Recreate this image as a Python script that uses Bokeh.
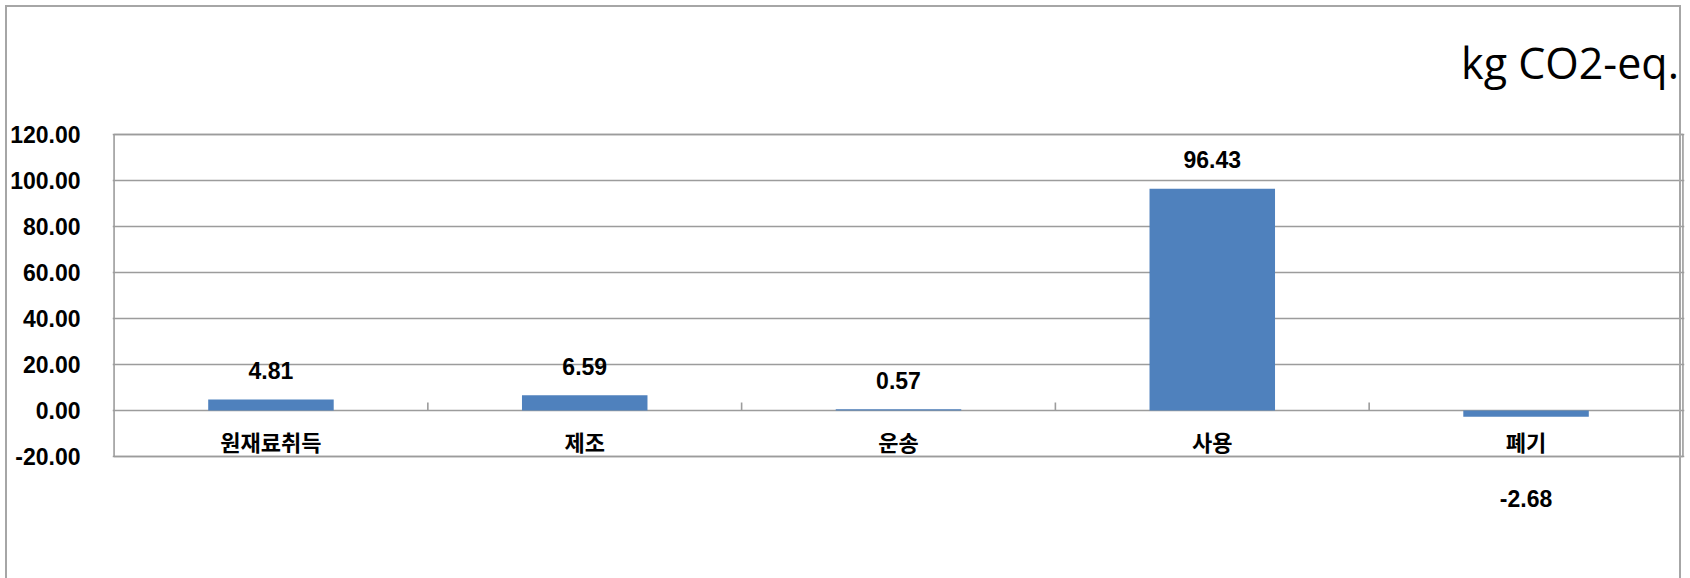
import numpy as np
from bokeh.plotting import figure
from bokeh.models import Range1d, FixedTicker, ColumnDataSource, InlineStyleSheet
from bokeh.core.properties import value
from bokeh.embed import file_html
from bokeh.resources import INLINE

# ---- data ----
categories = ["원재료취득", "제조", "운송", "사용", "폐기"]
values = [4.81, 6.59, 0.57, 96.43, -2.68]
value_labels = ["4.81", "6.59", "0.57", "96.43", "-2.68"]
y_ticks = [-20, 0, 20, 40, 60, 80, 100, 120]
y_tick_labels = ["-20.00", "0.00", "20.00", "40.00", "60.00", "80.00", "100.00", "120.00"]
unit_label = "kg CO2-eq."

# ---- layout constants ----
W, H = 1690, 578
AXIS_TOP_PX = 134          # pixel row of the top tick (120)
PX_PER_UNIT = 2.3
BAR_COLOR = "#4F81BD"
GRID_COLOR = "#9c9c9c"
NUM_FONT = "Liberation Sans"
KR_FONT = "Noto Sans CJK KR"

n = len(categories)
y_max_tick = max(y_ticks)
y_top = y_max_tick + AXIS_TOP_PX / PX_PER_UNIT
y_bottom = y_max_tick - (H - AXIS_TOP_PX) / PX_PER_UNIT

p = figure(width=W, height=H, output_backend="svg", toolbar_location=None,
           title_location=None,
           x_range=Range1d(-0.005, n + 0.005), y_range=Range1d(y_bottom, y_top),
           x_axis_location=None,
           min_border_left=112, min_border_right=6, min_border_top=0,
           min_border_bottom=0)
p.outline_line_color = None
p.background_fill_color = "white"
p.border_fill_color = "white"

# y axis
ticker = FixedTicker(ticks=y_ticks)
p.yaxis.ticker = ticker
p.yaxis.major_label_overrides = {t: l for t, l in zip(y_ticks, y_tick_labels)}
p.yaxis.axis_line_color = None
p.yaxis.major_tick_line_color = None
p.yaxis.minor_tick_line_color = None
p.yaxis.major_label_standoff = 26
p.yaxis.major_label_text_font = NUM_FONT
p.yaxis.major_label_text_font_size = "23px"
p.yaxis.major_label_text_font_style = "bold"
p.yaxis.major_label_text_color = "black"

p.ygrid.ticker = ticker
p.ygrid.grid_line_color = GRID_COLOR
p.ygrid.grid_line_width = 1.6
for g in p.xgrid:
    g.visible = False

xs = [i + 0.5 for i in range(n)]
src = ColumnDataSource(dict(
    x=xs, cat=categories, val=values, lab=value_labels,
    off=[-29 if v >= 0 else 82 for v in values],
    zero=[0] * n,
))

# bars
p.vbar(x="x", top="val", bottom=0, width=0.4, source=src,
       fill_color=BAR_COLOR, line_color=None)

# plot box
p.quad(left=[0], right=[n], bottom=[min(y_ticks)], top=[max(y_ticks)],
       fill_color=None, line_color=GRID_COLOR, line_width=1.6)

# category tick marks on zero line
tick_len = 8 / PX_PER_UNIT
p.segment(x0=list(range(1, n)), x1=list(range(1, n)), y0=[0] * (n - 1),
          y1=[tick_len] * (n - 1), line_color=GRID_COLOR, line_width=1.6)

# value labels
p.text(x="x", y="val", text="lab", source=src, y_offset="off",
       text_align="center", text_baseline="middle",
       text_font=value(NUM_FONT), text_font_size="23px", text_font_style="bold",
       text_color="black")

# category labels
p.text(x="x", y="zero", text="cat", source=src, y_offset=30,
       text_align="center", text_baseline="middle",
       text_font=value(KR_FONT), text_font_size="22px", text_font_style="bold",
       text_color="black")

# unit label (top right)
p.text(x=[n], y=[y_max_tick], text=[unit_label], x_offset=-4, y_offset=-72,
       text_align="right", text_baseline="middle",
       text_font=value("Open Sans"), text_font_size="43px", text_color="black")

# outer chart-area border (drawn as an overlay on the figure element)
p.stylesheets = [InlineStyleSheet(css="""
:host { position: relative; }
:host::after {
  content: '';
  position: absolute;
  left: 5px; top: 5px;
  width: 1676px; height: 640px;
  border: 2px solid #a6a6a6;
  border-bottom: none;
  pointer-events: none;
  box-sizing: border-box;
}
""")]

open("out.html", "w").write(file_html(p, INLINE))
